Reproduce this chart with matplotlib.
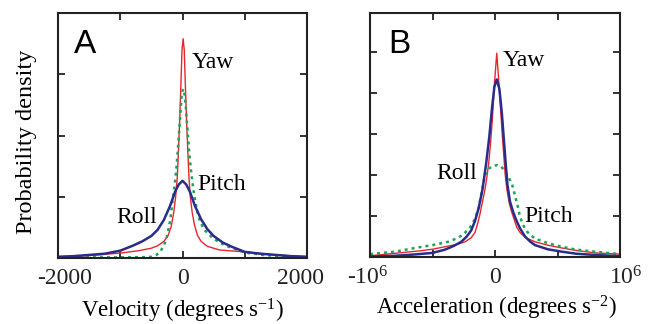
import numpy as np
import matplotlib
matplotlib.use("Agg")
from matplotlib import pyplot as plt
from matplotlib.transforms import ScaledTranslation

plt.rcParams['font.family'] = ['Liberation Serif', 'DejaVu Serif']
plt.rcParams['mathtext.fontset'] = 'custom'
plt.rcParams['mathtext.rm'] = 'Liberation Serif'
plt.rcParams['mathtext.it'] = 'Liberation Serif:italic'

# Panel A: velocity (deg/s) distributions, y in tick units
yaw_vel_x = [-2000, -1500, -1000, -700, -500, -400, -300, -230, -180, -140, -110, -85, -65, -45, -25, -8, 10,
             28, 45, 65, 85, 105, 125, 155, 190, 240, 300, 400, 600, 1000, 1500, 2000]
yaw_vel_y = [0.02, 0.04, 0.08, 0.12, 0.16, 0.20, 0.27, 0.37, 0.52, 0.75, 1.0, 1.3, 1.75, 2.25, 2.85, 3.4, 3.58,
             3.4, 2.85, 2.25, 1.75, 1.3, 1.0, 0.75, 0.55, 0.37, 0.27, 0.19, 0.13, 0.10, 0.05, 0.02]

roll_vel_x = [-2000, -1750, -1500, -1250, -1000, -800, -650, -500, -400, -300, -200, -120, -60, 0,
              60, 120, 200, 300, 400, 500, 650, 800, 1000, 1250, 1500, 1750, 2000]
roll_vel_y = [0.02, 0.03, 0.05, 0.07, 0.12, 0.20, 0.27, 0.36, 0.46, 0.62, 0.85, 1.08, 1.2, 1.26,
              1.2, 1.08, 0.85, 0.63, 0.47, 0.36, 0.25, 0.18, 0.10, 0.07, 0.05, 0.03, 0.02]

pitch_vel_x = [-2000, -1000, -600, -500, -420, -360, -300, -250, -200, -160, -125, -95, -65, -35, -10, 10,
               30, 55, 80, 110, 140, 170, 200, 240, 280, 350, 480, 600, 750, 1000, 1300, 1600, 2000]
pitch_vel_y = [0.01, 0.01, 0.015, 0.02, 0.05, 0.10, 0.20, 0.35, 0.60, 0.93, 1.2, 1.5, 1.9, 2.35, 2.7, 2.76,
               2.7, 2.45, 2.1, 1.7, 1.4, 1.15, 0.95, 0.75, 0.60, 0.46, 0.33, 0.25, 0.18, 0.09, 0.05, 0.03, 0.01]

# Panel B: acceleration (thousand deg/s^2) distributions
yaw_acc_x = [-1000, -800, -600, -500, -400, -300, -240, -190, -160, -140, -120, -100, -80, -65, -50, -35, -20, -5, 14,
             30, 45, 60, 72, 82, 95, 115, 135, 155, 175, 200, 240, 320, 420, 534, 650, 800, 1000]
yaw_acc_y = [0.03, 0.09, 0.15, 0.19, 0.25, 0.31, 0.37, 0.47, 0.60, 0.80, 1.05, 1.35, 1.65, 1.95, 2.3, 2.8, 3.4, 4.2, 4.97,
             4.3, 3.6, 2.9, 2.4, 2.0, 1.65, 1.3, 1.08, 0.9, 0.72, 0.60, 0.48, 0.37, 0.29, 0.22, 0.16, 0.10, 0.07]

roll_acc_x = [-1000, -800, -650, -500, -400, -330, -270, -226, -190, -160, -130, -100, -70, -45, -25, -5, 14,
              35, 55, 70, 85, 100, 120, 145, 170, 200, 240, 280, 320, 420, 534, 650, 800, 1000]
roll_acc_y = [0.01, 0.03, 0.06, 0.10, 0.18, 0.27, 0.37, 0.50, 0.65, 0.88, 1.2, 1.65, 2.3, 2.95, 3.6, 4.15, 4.33,
              4.1, 3.5, 2.9, 2.3, 1.75, 1.35, 1.1, 0.9, 0.70, 0.50, 0.38, 0.29, 0.19, 0.13, 0.08, 0.05, 0.02]

pitch_acc_x = [-1000, -900, -800, -640, -500, -376, -300, -250, -200, -160, -130, -106, -80, -50, -20, 16,
               50, 80, 105, 120, 134, 160, 185, 200, 225, 256, 290, 320, 420, 534, 650, 800, 1000]
pitch_acc_y = [0.07, 0.10, 0.13, 0.22, 0.29, 0.37, 0.46, 0.56, 0.72, 0.92, 1.2, 1.6, 2.0, 2.15, 2.22, 2.24,
               2.2, 2.1, 1.95, 1.88, 1.8, 1.5, 1.2, 0.98, 0.78, 0.62, 0.52, 0.45, 0.34, 0.25, 0.18, 0.13, 0.07]

red = '#e8252b'
blue = '#2a2c8c'
green = '#1aa455'

fig = plt.figure(figsize=(6.53, 3.24), dpi=100)
axA = fig.add_axes([58/653, 1-258/324, 249/653, 245/324])
axB = fig.add_axes([370/653, 1-257/324, 250/653, 244/324])

def style(ax, xt, xl, offsets, ymax, yt):
    ax.set_yticks(yt)
    ax.set_yticklabels([])
    ax.set_xticks(xt)
    ax.set_xticklabels(xl, fontsize=17)
    ax.set_ylim(0, ymax)
    ax.set_xlim(xt[0], xt[-1])
    ax.tick_params(direction='in', length=5, width=1.3, top=True, right=True, pad=7, colors='#222222')
    for s in ax.spines.values():
        s.set_linewidth(1.5)
        s.set_color('#222222')
    for lbl, dx in zip(ax.get_xticklabels(), offsets):
        lbl.set_transform(lbl.get_transform() + ScaledTranslation(dx/100, 0, fig.dpi_scale_trans))

# panel A
axA.plot(yaw_vel_x, yaw_vel_y, color=red, lw=1.0)
axA.plot(pitch_vel_x, pitch_vel_y, color=green, lw=1.8, ls=(0, (1.2, 1.6)))
axA.plot(roll_vel_x, roll_vel_y, color=blue, lw=1.8)
style(axA, [-2000, -1000, 0, 1000, 2000], ['-2000', '', '0', '', '2000'], [7, 0, 0, 0, -7], 4, [1, 2, 3])
axA.set_xlabel('Velocity (degrees s$^{-1}$)', fontsize=16.5)
axA.xaxis.set_label_coords(0.5, -0.16)
axA.set_ylabel('Probability density', fontsize=17.5)
axA.yaxis.set_label_coords(-0.085, 0.473)
axA.text(0.064, 0.837, 'A', transform=axA.transAxes, fontsize=24, family='Liberation Sans')
axA.text(150, 3.10, 'Yaw', fontsize=17)
axA.text(235, 1.11, 'Pitch', fontsize=17)
axA.text(-1060, 0.57, 'Roll', fontsize=17)

# panel B
axB.plot(yaw_acc_x, yaw_acc_y, color=red, lw=1.0)
axB.plot(pitch_acc_x, pitch_acc_y, color=green, lw=1.8, ls=(0, (1.2, 1.6)))
axB.plot(roll_acc_x, roll_acc_y, color=blue, lw=1.8)
style(axB, [-1000, -500, 0, 500, 1000], ['-10$^{6}$', '', '0', '', '10$^{6}$'], [-2, 0, 0, 0, 6], 5.95, [1, 2, 3, 4, 5])
axB.set_xlabel('Acceleration (degrees s$^{-2}$)', fontsize=16.5)
axB.xaxis.set_label_coords(0.508, -0.152)
axB.text(0.072, 0.836, 'B', transform=axB.transAxes, fontsize=24, family='Liberation Sans')
axB.text(60, 4.65, 'Yaw', fontsize=17)
axB.text(235, 0.86, 'Pitch', fontsize=17)
axB.text(-468, 1.89, 'Roll', fontsize=17)

fig.savefig('out.png', dpi=100)
